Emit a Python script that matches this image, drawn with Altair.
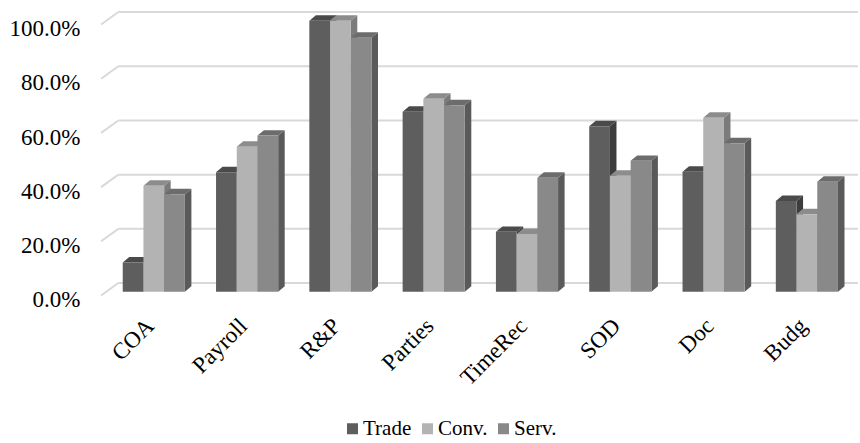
import altair as alt
import pandas as pd

# Share of respondents per area, by firm type
categories = ["COA", "Payroll", "R&P", "Parties", "TimeRec", "SOD", "Doc", "Budg"]
series = ["Trade", "Conv.", "Serv."]
trade = [0.108, 0.441, 1.000, 0.664, 0.221, 0.611, 0.443, 0.335]
conv = [0.391, 0.535, 1.000, 0.712, 0.213, 0.428, 0.642, 0.286]
serv = [0.360, 0.576, 0.937, 0.688, 0.421, 0.483, 0.548, 0.406]
grid_values = [0.0, 0.2, 0.4, 0.6, 0.8, 1.0]

front_colors = ["#5e5e5e", "#b3b3b3", "#898989"]
side_colors = ["#3d3d3d", "#7b7b7b", "#5a5a5a"]
top_colors = ["#4a4a4a", "#8c8c8c", "#6c6c6c"]

FONT = "Liberation Serif"

# 3-D look, expressed in scale units (x: category step, y: share)
BAR_W = 0.222      # width of one bar
BAR_DX = 0.070     # bar depth, horizontal part
BAR_DY = 0.020     # bar depth, vertical part
WALL_DY = 0.032    # bar front plane -> back wall
FLOOR_DX = 0.185   # full floor depth
FLOOR_DY = 0.046
WALL_LEFT = -0.38

X_MIN, X_MAX = -0.6517, 7.5477
Y_MIN, Y_MAX = -0.0490, 1.0506

rows = []
for ci, cat in enumerate(categories):
    for si, (name, vals) in enumerate(zip(series, [trade, conv, serv])):
        rows.append({"cat": cat, "ci": ci, "series": name, "si": si, "value": vals[ci]})
bars = pd.DataFrame(rows)
grid = pd.DataFrame({"g": grid_values})

xscale = alt.Scale(domain=[X_MIN, X_MAX], nice=False, zero=False)
yscale = alt.Scale(domain=[Y_MIN, Y_MAX], nice=False, zero=False)

label_expr = "[" + ",".join('"%s"' % c for c in categories) + "][datum.value]"
x_axis = alt.Axis(values=list(range(len(categories))), labelExpr=label_expr,
                  labelAngle=-45, labelAlign="right", labelBaseline="middle",
                  labelPadding=17, labelOffset=-4, tickSize=0, ticks=False,
                  domain=False, grid=False, title="",
                  labelFont=FONT, labelFontSize=23, labelColor="#000000")
y_axis = alt.Axis(values=grid_values, format=".1%", labelPadding=13, labelOffset=8,
                  tickSize=0, ticks=False, domain=False, grid=False, title="",
                  labelFont=FONT, labelFontSize=23, labelColor="#000000")


def X(field, **kw):
    return alt.X(field, type="quantitative", scale=xscale, axis=x_axis, **kw)


def Y(field, **kw):
    return alt.Y(field, type="quantitative", scale=yscale, axis=y_axis, **kw)


base_bars = alt.Chart(bars).transform_calculate(
    left=f"datum.ci + (datum.si - 1.5) * {BAR_W}",
    right=f"datum.ci + (datum.si - 0.5) * {BAR_W}",
)

# back wall gridlines and the floor-edge diagonals on the left
grid_back = alt.Chart(grid).transform_calculate(
    x0=f"{WALL_LEFT}", x1=f"{X_MAX}", yb=f"datum.g + {WALL_DY}"
).mark_rule(color="#d9d9d9", strokeWidth=2).encode(
    x=X("x0"), x2="x1:Q", y=Y("yb"),
)
grid_side = alt.Chart(grid).transform_calculate(
    x0=f"{WALL_LEFT - FLOOR_DX}", x1=f"{WALL_LEFT}",
    y0=f"datum.g + {WALL_DY - FLOOR_DY}", y1=f"datum.g + {WALL_DY}"
).mark_rule(color="#d9d9d9", strokeWidth=2).encode(
    x=X("x0"), x2="x1:Q", y=Y("y0"), y2="y1:Q",
)

layers = [grid_back, grid_side]
for si, name in enumerate(series):
    one = base_bars.transform_filter(alt.datum.series == name)
    flat = one.transform_calculate(end="[0, 1]").transform_flatten(["end"])

    side = flat.transform_calculate(
        xs=f"datum.right + datum.end * {BAR_DX}",
        ylo=f"datum.end * {BAR_DY}",
        yhi=f"datum.value + datum.end * {BAR_DY}",
    ).mark_area(color=side_colors[si], orient="vertical", interpolate="linear").encode(
        x=X("xs"), y=Y("ylo", stack=None), y2="yhi:Q", detail="cat:N",
    )
    top = flat.transform_calculate(
        yt=f"datum.value + datum.end * {BAR_DY}",
        xl=f"datum.left + datum.end * {BAR_DX}",
        xr=f"datum.right + datum.end * {BAR_DX}",
    ).mark_area(color=top_colors[si], orient="horizontal", interpolate="linear").encode(
        y=Y("yt"), x=X("xl", stack=None), x2="xr:Q", detail="cat:N",
    )
    front = one.transform_calculate(zero="0").mark_rect().encode(
        x=X("left"), x2="right:Q",
        y=Y("zero"), y2="value:Q",
        color=alt.Color("series:N",
                        scale=alt.Scale(domain=series, range=front_colors),
                        sort=series,
                        legend=alt.Legend(title=None, orient="none", direction="horizontal",
                                          legendX=249, legendY=411,
                                          symbolType="square", symbolSize=121,
                                          symbolStrokeWidth=0, symbolOpacity=1,
                                          labelFont=FONT, labelFontSize=21,
                                          labelColor="#000000", labelOffset=0,
                                          columnPadding=5)),
    )
    layers += [side, top, front]

chart = alt.layer(*layers).properties(
    width=765, height=298,
    padding={"left": 93, "top": 7, "right": 2, "bottom": 138},
    autosize="none",
    background="#ffffff",
).configure_view(stroke=None)

chart.save("out.html", embed_options={"renderer": "svg", "actions": False})
